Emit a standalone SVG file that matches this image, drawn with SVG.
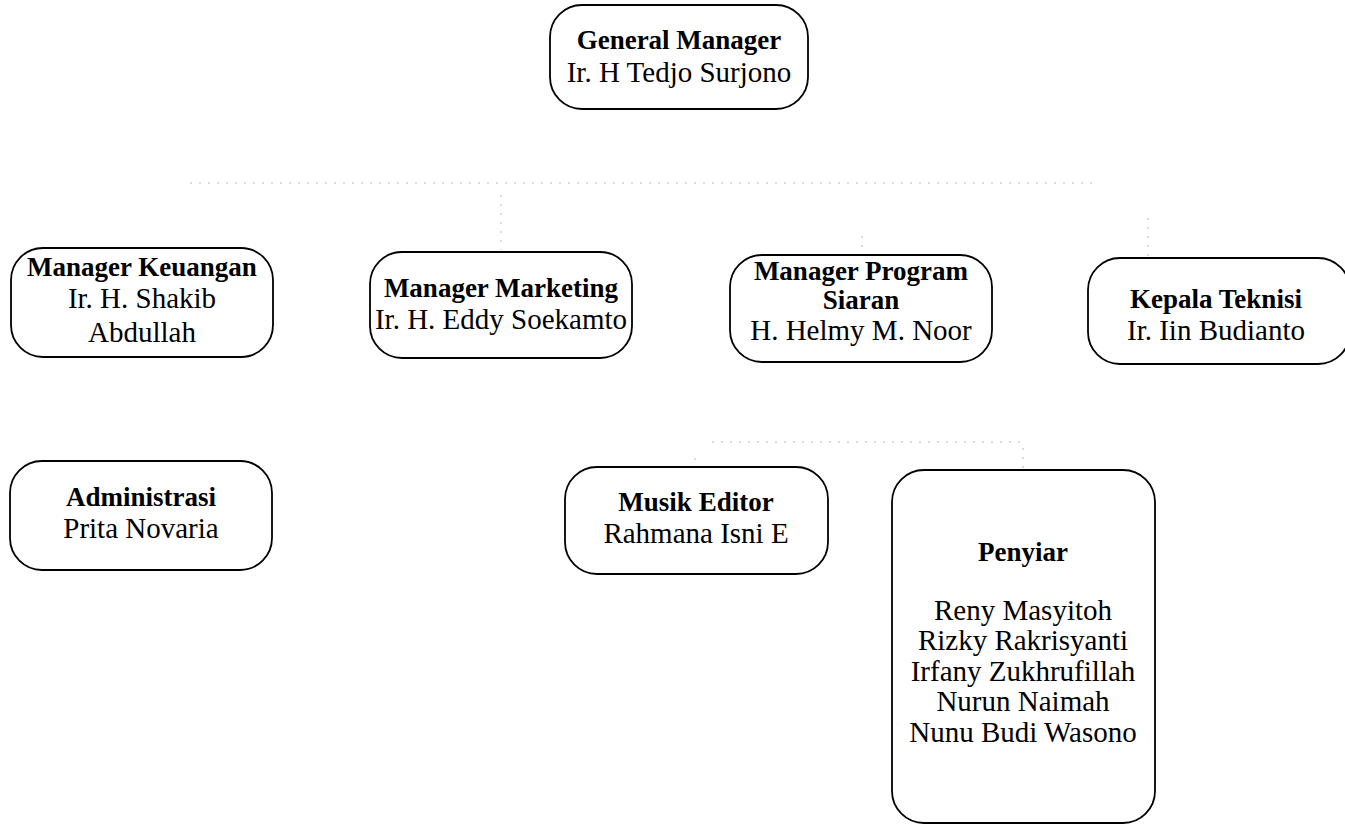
<svg xmlns="http://www.w3.org/2000/svg" width="1345" height="825" viewBox="0 0 1345 825">
<style>
.box{fill:#fff;stroke:#000;stroke-width:1.8}
.t{font-family:"Liberation Serif","Times New Roman",serif;font-size:29px;fill:#000;text-anchor:middle}
.b{font-weight:bold;font-size:27px}
.c{fill:none;stroke:#b8b8b8;stroke-width:1;stroke-dasharray:2 7}
</style>
<rect width="1345" height="825" fill="#fff"/>
<g id="connectors">
<line class="c" x1="190" y1="183" x2="1092" y2="183"/>
<line class="c" x1="501" y1="195" x2="501" y2="250"/>
<line class="c" x1="862" y1="236" x2="862" y2="254"/>
<line class="c" x1="1148" y1="218" x2="1148" y2="258"/>
<line class="c" x1="712" y1="442" x2="1024" y2="442"/>
<line class="c" x1="695" y1="458" x2="695" y2="467"/>
<line class="c" x1="1023" y1="448" x2="1023" y2="470"/>
</g>
<g id="general-manager">
<rect class="box" x="550" y="5" width="258" height="104" rx="32"/>
<text class="t b" x="679" y="49">General Manager</text>
<text class="t" x="679" y="82">Ir. H Tedjo Surjono</text>
</g>
<g id="manager-keuangan">
<rect class="box" x="11" y="248" width="262" height="109" rx="32"/>
<text class="t b" x="142" y="276">Manager Keuangan</text>
<text class="t" x="142" y="308">Ir. H. Shakib</text>
<text class="t" x="142" y="342">Abdullah</text>
</g>
<g id="manager-marketing">
<rect class="box" x="370" y="252" width="262" height="106" rx="32"/>
<text class="t b" x="501" y="297">Manager Marketing</text>
<text class="t" x="501" y="329">Ir. H. Eddy Soekamto</text>
</g>
<g id="manager-program-siaran">
<rect class="box" x="730" y="255" width="262" height="107" rx="32"/>
<text class="t b" x="861" y="280">Manager Program</text>
<text class="t b" x="861" y="309">Siaran</text>
<text class="t" x="861" y="340">H. Helmy M. Noor</text>
</g>
<g id="kepala-teknisi">
<rect class="box" x="1088" y="258" width="262" height="106" rx="32"/>
<text class="t b" x="1216" y="308">Kepala Teknisi</text>
<text class="t" x="1216" y="340">Ir. Iin Budianto</text>
</g>
<g id="administrasi">
<rect class="box" x="10" y="461" width="262" height="109" rx="32"/>
<text class="t b" x="141" y="506">Administrasi</text>
<text class="t" x="141" y="538">Prita Novaria</text>
</g>
<g id="musik-editor">
<rect class="box" x="565" y="467" width="263" height="107" rx="32"/>
<text class="t b" x="696" y="511">Musik Editor</text>
<text class="t" x="696" y="543">Rahmana Isni E</text>
</g>
<g id="penyiar">
<rect class="box" x="892" y="470" width="263" height="353" rx="32"/>
<text class="t b" x="1023" y="561">Penyiar</text>
<text class="t" x="1023" y="620">Reny Masyitoh</text>
<text class="t" x="1023" y="650">Rizky Rakrisyanti</text>
<text class="t" x="1023" y="681">Irfany Zukhrufillah</text>
<text class="t" x="1023" y="711">Nurun Naimah</text>
<text class="t" x="1023" y="742">Nunu Budi Wasono</text>
</g>
</svg>
